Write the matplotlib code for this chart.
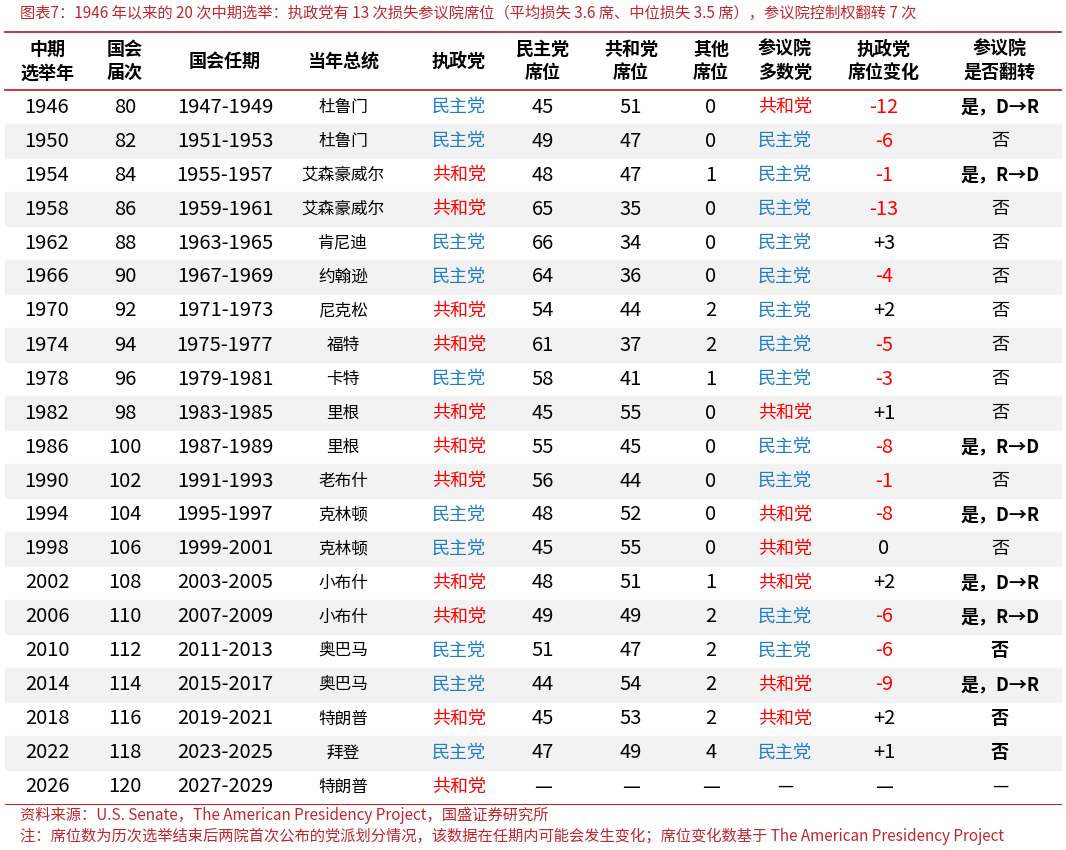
import matplotlib.pyplot as plt
from matplotlib.patches import Rectangle

plt.rcParams['font.family'] = ['Noto Sans CJK SC', 'DejaVu Sans']

headers = ['中期\n选举年', '国会\n届次', '国会任期', '当年总统', '执政党', '民主党\n席位',
           '共和党\n席位', '其他\n席位', '参议院\n多数党', '执政党\n席位变化', '参议院\n是否翻转']
years = [1946, 1950, 1954, 1958, 1962, 1966, 1970, 1974, 1978, 1982, 1986, 1990,
         1994, 1998, 2002, 2006, 2010, 2014, 2018, 2022, 2026]
congress = [80, 82, 84, 86, 88, 90, 92, 94, 96, 98, 100, 102, 104, 106, 108, 110,
            112, 114, 116, 118, 120]
terms = ['1947-1949', '1951-1953', '1955-1957', '1959-1961', '1963-1965', '1967-1969',
         '1971-1973', '1975-1977', '1979-1981', '1983-1985', '1987-1989', '1991-1993',
         '1995-1997', '1999-2001', '2003-2005', '2007-2009', '2011-2013', '2015-2017',
         '2019-2021', '2023-2025', '2027-2029']
presidents = ['杜鲁门', '杜鲁门', '艾森豪威尔', '艾森豪威尔', '肯尼迪', '约翰逊', '尼克松',
              '福特', '卡特', '里根', '里根', '老布什', '克林顿', '克林顿', '小布什', '小布什',
              '奥巴马', '奥巴马', '特朗普', '拜登', '特朗普']
ruling = ['民主党', '民主党', '共和党', '共和党', '民主党', '民主党', '共和党', '共和党',
          '民主党', '共和党', '共和党', '共和党', '民主党', '民主党', '共和党', '共和党',
          '民主党', '民主党', '共和党', '民主党', '共和党']
dem_seats = ['45', '49', '48', '65', '66', '64', '54', '61', '58', '45', '55', '56',
             '48', '45', '48', '49', '51', '44', '45', '47', '—']
rep_seats = ['51', '47', '47', '35', '34', '36', '44', '37', '41', '55', '45', '44',
             '52', '55', '51', '49', '47', '54', '53', '49', '—']
other_seats = ['0', '0', '1', '0', '0', '0', '2', '2', '1', '0', '0', '0', '0', '0',
               '1', '2', '2', '2', '2', '4', '—']
majority = ['共和党', '民主党', '民主党', '民主党', '民主党', '民主党', '民主党', '民主党',
            '民主党', '共和党', '民主党', '民主党', '共和党', '共和党', '共和党', '民主党',
            '民主党', '共和党', '共和党', '民主党', '—']
change = ['-12', '-6', '-1', '-13', '+3', '-4', '+2', '-5', '-3', '+1', '-8', '-1',
          '-8', '0', '+2', '-6', '-6', '-9', '+2', '+1', '—']
flip = ['是，D→R', '否', '是，R→D', '否', '否', '否', '否', '否', '否', '否', '是，R→D',
        '否', '是，D→R', '否', '是，D→R', '是，R→D', '否', '是，D→R', '否', '否', '—']

RED = '#ff0000'
BLUE = '#1f7bd0'
LINE = '#c0272d'
col_x = [47, 125, 225, 343, 459, 543, 631, 711, 785, 884, 1000]
top, head_bot, row_h = 32, 90, 34

fig = plt.figure(figsize=(10.66, 8.5), dpi=100)
ax = fig.add_axes([0, 0, 1, 1])
ax.set_xlim(0, 1066)
ax.set_ylim(850, 0)
ax.axis('off')

ax.text(20, 13, '图表7：1946 年以来的 20 次中期选举：执政党有 13 次损失参议院席位（平均损失 3.6 席、中位损失 3.5 席），参议院控制权翻转 7 次',
        color=LINE, fontsize=11, style='italic', va='center', ha='left')

for i, h in enumerate(headers):
    ax.text(col_x[i], (top + head_bot) / 2, h, ha='center', va='center', fontsize=13,
            fontweight='bold', linespacing=1.3)

party_col = {'民主党': BLUE, '共和党': RED, '—': 'black'}
for r in range(len(years)):
    yc = head_bot + row_h * (r + 0.5)
    if r % 2 == 1:
        ax.add_patch(Rectangle((5, head_bot + row_h * r), 1056, row_h, color='#f2f2f2', zorder=0))
    vals = [str(years[r]), str(congress[r]), terms[r], presidents[r], ruling[r], dem_seats[r],
            rep_seats[r], other_seats[r], majority[r], change[r], flip[r]]
    for c, v in enumerate(vals):
        color = 'black'
        weight = 'normal'
        fs = 14.5
        if c in (4, 8):
            color = party_col[v]
            fs = 13
        elif c == 3:
            fs = 12
        elif c == 9 and v.startswith('-'):
            color = RED
        elif c == 10:
            weight = 'bold' if v.startswith('是') or v == '否' and r >= 16 else 'normal'
            fs = 13
        ax.text(col_x[c], yc, v, ha='center', va='center', fontsize=fs, color=color,
                fontweight=weight)

bottom = head_bot + row_h * len(years)
ax.plot([5, 1061], [top, top], color=LINE, lw=1.3)
ax.plot([5, 1061], [head_bot, head_bot], color=LINE, lw=1.3)
ax.plot([5, 1061], [bottom, bottom], color=LINE, lw=0.8)

ax.text(20, 815, '资料来源：U.S. Senate，The American Presidency Project，国盛证券研究所',
        fontsize=11, style='italic', va='center', color=LINE)
ax.text(20, 836, '注：席位数为历次选举结束后两院首次公布的党派划分情况，该数据在任期内可能会发生变化；席位变化数基于 The American Presidency Project',
        fontsize=11, style='italic', va='center', color=LINE)

fig.savefig('out.png', dpi=100)
